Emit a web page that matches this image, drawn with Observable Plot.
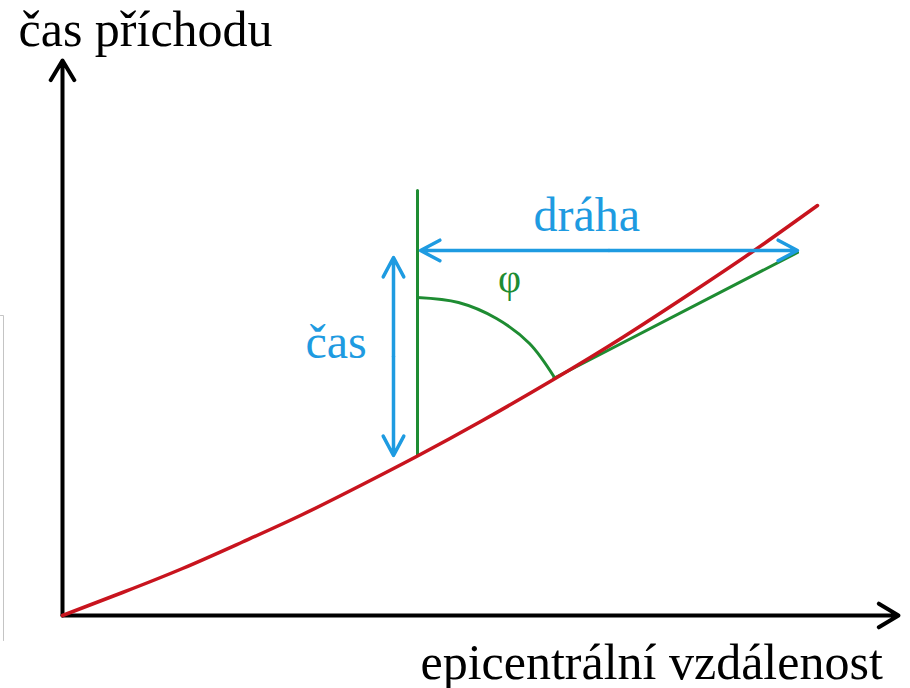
<!DOCTYPE html>
<html>
<head>
<meta charset="utf-8">
<script src="https://cdn.jsdelivr.net/npm/d3@7"></script>
<script src="https://cdn.jsdelivr.net/npm/@observablehq/plot@0.6"></script>
<style>
  html, body { margin: 0; padding: 0; background: #fff; }
  #chart svg { display: block; }
</style>
</head>
<body>
<div id="chart"></div>
<script>
// Units: pixels of the reference, measured from the axes' origin (x right, y up).
// Travel-time curve (red)
const curveX = [0, 60, 120, 180, 240, 300, 355, 420, 491, 560, 630, 691, 755];
const curveY = [0, 23, 47, 73.5, 101, 131, 159.5, 195, 236, 278, 323.5, 364.5, 410];

// Axes (arrows): start and end
const axisX1 = [0, 0];
const axisY1 = [0, 0];
const axisX2 = [0, 836];
const axisY2 = [555, 0];

// Green construction: vertical line, tangent, angle arc
const vertX = [355, 355];
const vertY = [160, 425];
const tanX = [491, 735];
const tanY = [237, 363];
const arcX = [355, 396, 434, 467, 492];
const arcY = [318, 313, 297, 272, 238];

// Blue double arrows: "dráha" (horizontal) and "čas" (vertical)
const drahaX = [358, 735];
const drahaY = 365;
const casX = 331;
const casY = [160, 358];

// Labels
const labelText = ["čas příchodu", "epicentrální vzdálenost"];
const labelX = [-44, 358];
const labelY = [570, -63];
const blueText = ["čas", "dráha"];
const blueX = [243, 471];
const blueY = [258, 385];
const phiText = ["φ"];
const phiX = [447];
const phiY = [324];

// Thin grey frame edge at the left of the picture
const edgeX = [-62, -59, -59];
const edgeY = [300, 300, -25];

const BLACK = "#000000", RED = "#c8141e", GREEN = "#1e8c32", BLUE = "#1e9be1";
const FONT = "Liberation Serif";

const curve = curveX.map((x, i) => ({x, y: curveY[i]}));
const axes = axisX1.map((x1, i) => ({x1, y1: axisY1[i], x2: axisX2[i], y2: axisY2[i]}));
const vert = vertX.map((x, i) => ({x, y: vertY[i]}));
const tang = tanX.map((x, i) => ({x, y: tanY[i]}));
const arc = arcX.map((x, i) => ({x, y: arcY[i]}));
const edge = edgeX.map((x, i) => ({x, y: edgeY[i]}));
const drahaMid = (drahaX[0] + drahaX[1]) / 2;
const casMid = (casY[0] + casY[1]) / 2;
const blueArrows = [
  {x1: drahaMid, y1: drahaY, x2: drahaX[0], y2: drahaY},
  {x1: drahaMid, y1: drahaY, x2: drahaX[1], y2: drahaY},
  {x1: casX, y1: casMid, x2: casX, y2: casY[0]},
  {x1: casX, y1: casMid, x2: casX, y2: casY[1]}
];
const labels = labelText.map((t, i) => ({t, x: labelX[i], y: labelY[i]}));
const blues = blueText.map((t, i) => ({t, x: blueX[i], y: blueY[i]}));
const phis = phiText.map((t, i) => ({t, x: phiX[i], y: phiY[i]}));

const chart = Plot.plot({
  width: 910,
  height: 688,
  marginLeft: 0, marginRight: 0, marginTop: 0, marginBottom: 0,
  x: {domain: [-62, 848], axis: null},
  y: {domain: [-73, 615], axis: null},
  style: {background: "#fff"},
  marks: [
    Plot.line(edge, {x: "x", y: "y", stroke: "#c4c4c4", strokeWidth: 1}),
    Plot.arrow(axes, {x1: "x1", y1: "y1", x2: "x2", y2: "y2", stroke: BLACK, strokeWidth: 4, headLength: 8.6, headAngle: 62}),
    Plot.line(vert, {x: "x", y: "y", stroke: GREEN, strokeWidth: 3}),
    Plot.line(tang, {x: "x", y: "y", stroke: GREEN, strokeWidth: 3}),
    Plot.line(arc, {x: "x", y: "y", stroke: GREEN, strokeWidth: 3, curve: "catmull-rom"}),
    Plot.line(curve, {x: "x", y: "y", stroke: RED, strokeWidth: 3.5, curve: "natural"}),
    Plot.arrow(blueArrows, {x1: "x1", y1: "y1", x2: "x2", y2: "y2", stroke: BLUE, strokeWidth: 3.5, headLength: 9.4, headAngle: 56}),
    Plot.text(labels, {x: "x", y: "y", text: "t", textAnchor: "start", lineAnchor: "bottom", fontSize: 50, fill: BLACK, fontFamily: FONT}),
    Plot.text(blues, {x: "x", y: "y", text: "t", textAnchor: "start", lineAnchor: "bottom", fontSize: 48, fill: BLUE, fontFamily: FONT}),
    Plot.text(phis, {x: "x", y: "y", text: "t", textAnchor: "middle", lineAnchor: "bottom", fontSize: 40, fill: GREEN, fontFamily: FONT})
  ]
});
document.getElementById("chart").appendChild(chart);
</script>
</body>
</html>
